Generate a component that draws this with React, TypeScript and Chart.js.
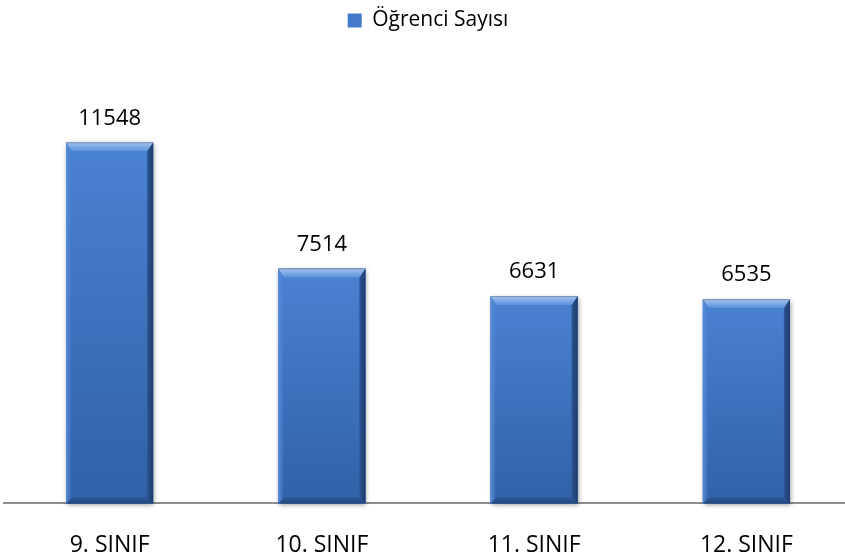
import React, { useEffect, useRef } from "react";
import { Chart, registerables } from "chart.js";

Chart.register(...registerables);

const categories = ["9. SINIF", "10. SINIF", "11. SINIF", "12. SINIF"];
const seriesLabel = "Öğrenci Sayısı";
const ogrenciSayisi = [11548, 7514, 6631, 6535];
const yMax = 14790;

const FONT = "'Open Sans', 'Liberation Sans', sans-serif";

const bevelPlugin = {
  id: "bevelBars",
  beforeDatasetsDraw(chart: any) {
    const ctx = chart.ctx;
    const meta = chart.getDatasetMeta(0);
    ctx.save();
    meta.data.forEach((bar: any) => {
      const { x, y, base, width } = bar.getProps(["x", "y", "base", "width"], true);
      const l = x - width / 2;
      ctx.shadowColor = "rgba(0,0,0,0.45)";
      ctx.shadowBlur = 5;
      ctx.shadowOffsetX = 1;
      ctx.shadowOffsetY = 2;
      ctx.fillStyle = "#3a6cb8";
      ctx.fillRect(l, y, width, base - y);
    });
    ctx.restore();
  },
  afterDatasetsDraw(chart: any) {
    const ctx = chart.ctx;
    const meta = chart.getDatasetMeta(0);
    const ds = chart.data.datasets[0];
    ctx.save();
    meta.data.forEach((bar: any, i: number) => {
      const { x, y, base, width } = bar.getProps(["x", "y", "base", "width"], true);
      const l = x - width / 2;
      const r = x + width / 2;
      const bt = 9;
      const bs = 6;
      const bb = 6;
      const g = ctx.createLinearGradient(0, y, 0, base);
      g.addColorStop(0, "#4a82d2");
      g.addColorStop(1, "#3061a8");
      ctx.fillStyle = g;
      ctx.fillRect(l, y, width, base - y);
      const gl = ctx.createLinearGradient(l, 0, l + bs, 0);
      gl.addColorStop(0, "#5a90da");
      gl.addColorStop(1, "rgba(75,130,210,0)");
      ctx.fillStyle = gl;
      ctx.beginPath();
      ctx.moveTo(l, y);
      ctx.lineTo(l + bs, y + bt);
      ctx.lineTo(l + bs, base - bb);
      ctx.lineTo(l, base);
      ctx.closePath();
      ctx.fill();
      const gr = ctx.createLinearGradient(r - bs, 0, r, 0);
      gr.addColorStop(0, "#2c5592");
      gr.addColorStop(1, "#1d3b6b");
      ctx.fillStyle = gr;
      ctx.beginPath();
      ctx.moveTo(r, y);
      ctx.lineTo(r, base);
      ctx.lineTo(r - bs, base - bb);
      ctx.lineTo(r - bs, y + bt);
      ctx.closePath();
      ctx.fill();
      const gb = ctx.createLinearGradient(0, base - bb, 0, base);
      gb.addColorStop(0, "#2d5896");
      gb.addColorStop(1, "#24487e");
      ctx.fillStyle = gb;
      ctx.beginPath();
      ctx.moveTo(l, base);
      ctx.lineTo(r, base);
      ctx.lineTo(r - bs, base - bb);
      ctx.lineTo(l + bs, base - bb);
      ctx.closePath();
      ctx.fill();
      const gt = ctx.createLinearGradient(0, y, 0, y + bt);
      gt.addColorStop(0, "#a4c4f0");
      gt.addColorStop(1, "#5a90da");
      ctx.fillStyle = gt;
      ctx.beginPath();
      ctx.moveTo(l, y);
      ctx.lineTo(r, y);
      ctx.lineTo(r - bs, y + bt);
      ctx.lineTo(l + bs, y + bt);
      ctx.closePath();
      ctx.fill();
      ctx.strokeStyle = "rgba(120,140,170,0.9)";
      ctx.lineWidth = 1;
      ctx.beginPath();
      ctx.moveTo(l, y + 0.5);
      ctx.lineTo(r, y + 0.5);
      ctx.stroke();
      ctx.fillStyle = "#000";
      ctx.font = `22px ${FONT}`;
      ctx.textAlign = "center";
      ctx.textBaseline = "middle";
      ctx.fillText(String(ds.data[i]), x, y - 24);
    });
    ctx.restore();
  },
};

export default function App() {
  const ref = useRef<HTMLCanvasElement | null>(null);
  useEffect(() => {
    const canvas = ref.current;
    if (!canvas) return;
    const chart = new Chart(canvas, {
      type: "bar",
      data: {
        labels: categories,
        datasets: [
          {
            label: seriesLabel,
            data: ogrenciSayisi,
            backgroundColor: "#4279c8",
            borderColor: "#2f5b9c",
            borderWidth: 0,
            barPercentage: 0.41,
            categoryPercentage: 1,
          },
        ],
      },
      options: {
        responsive: false,
        animation: false,
        devicePixelRatio: 1,
        layout: { padding: { left: 3.5, right: 3.5, top: 0, bottom: 2 } },
        plugins: {
          legend: {
            display: true,
            position: "top",
            labels: {
              boxWidth: 14,
              boxHeight: 14,
              color: "#000",
              padding: 10,
              font: { family: FONT, size: 21 },
            },
          },
          tooltip: { enabled: false },
        },
        scales: {
          x: {
            offset: true,
            grid: { display: false, drawTicks: false },
            border: { display: true, color: "#8c8c8c", width: 2 },
            ticks: {
              color: "#000",
              padding: 28,
              font: { family: FONT, size: 23 },
            },
          },
          y: {
            display: false,
            min: 0,
            max: yMax,
          },
        },
      },
      plugins: [bevelPlugin],
    });
    return () => chart.destroy();
  }, []);
  return (
    <div
      style={{
        position: "fixed",
        left: 0,
        top: 0,
        width: 845,
        height: 559,
        overflow: "hidden",
        background: "#fff",
      }}
    >
      <canvas ref={ref} width={856} height={589} style={{ display: "block" }} />
    </div>
  );
}
